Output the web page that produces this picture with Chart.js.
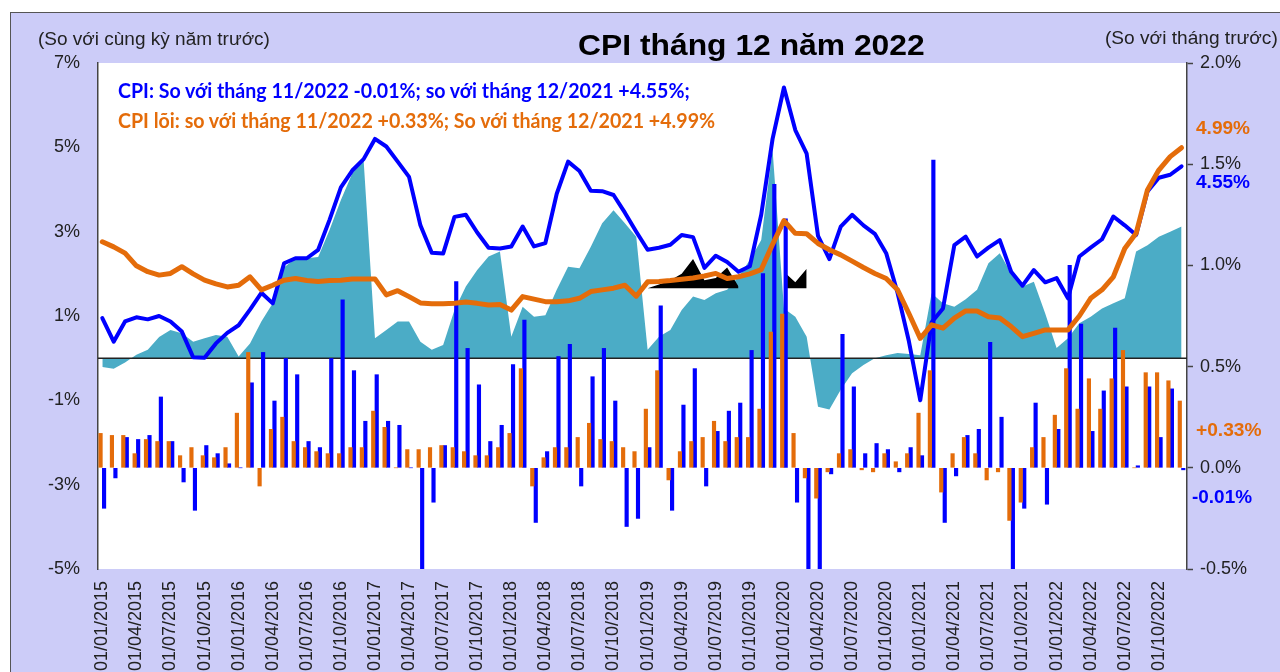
<!DOCTYPE html>
<html><head><meta charset="utf-8">
<script src="https://cdn.jsdelivr.net/npm/chart.js@4.4.1/dist/chart.umd.min.js"></script>
<style>
html,body{margin:0;padding:0;width:1280px;height:672px;overflow:hidden;background:#fff;}
#frame{position:absolute;left:10px;top:12px;width:1270px;height:660px;background:#CCCCF8;border-top:1.5px solid #555;border-left:1.5px solid #555;}
#c{position:absolute;left:0;top:0;}
.t{position:absolute;white-space:nowrap;line-height:1;transform-origin:0 50%;font-family:"Liberation Sans",Arial,sans-serif;}
.a{font-family:Lato,"Open Sans",sans-serif;font-weight:bold;}
</style></head><body>
<div id="frame"></div>
<canvas id="c" width="1280" height="700" style="width:1280px;height:700px"></canvas>
<div class="t" data-x="38" data-y="38" data-w="232" style="font-size:19px;color:#222">(So với cùng kỳ năm trước)</div>
<div class="t" data-x="578" data-y="45" data-w="347" style="font-size:30px;font-weight:bold;color:#000">CPI tháng 12 năm 2022</div>
<div class="t" data-x="1105" data-y="37" data-w="173" style="font-size:19px;color:#222">(So với tháng trước)</div>
<div class="t a" data-x="118" data-y="89" data-w="572" style="font-size:21px;color:#0000FF">CPI: So với tháng 11/2022 -0.01%; so với tháng 12/2021 +4.55%;</div>
<div class="t a" data-x="118" data-y="119" data-w="597" style="font-size:21px;color:#E46C0A">CPI lõi: so với tháng 11/2022 +0.33%; So với tháng 12/2021 +4.99%</div>
<div class="t" data-x="1196" data-y="128" data-w="54" style="font-size:18px;font-weight:bold;color:#E46C0A">4.99%</div>
<div class="t" data-x="1196" data-y="182" data-w="54" style="font-size:18px;font-weight:bold;color:#0000FF">4.55%</div>
<div class="t" data-x="1196" data-y="430" data-w="66" style="font-size:18px;font-weight:bold;color:#E46C0A">+0.33%</div>
<div class="t" data-x="1192" data-y="497" data-w="60" style="font-size:18px;font-weight:bold;color:#0000FF">-0.01%</div>
<script>
// Tick labels on the x axis (one every 3 months, Jan 2015 .. Oct 2022)
const tickLabels = ["01/01/2015","01/04/2015","01/07/2015","01/10/2015",
"01/01/2016","01/04/2016","01/07/2016","01/10/2016",
"01/01/2017","01/04/2017","01/07/2017","01/10/2017",
"01/01/2018","01/04/2018","01/07/2018","01/10/2018",
"01/01/2019","01/04/2019","01/07/2019","01/10/2019",
"01/01/2020","01/04/2020","01/07/2020","01/10/2020",
"01/01/2021","01/04/2021","01/07/2021","01/10/2021",
"01/01/2022","01/04/2022","01/07/2022","01/10/2022"];
const tickMonths = [0,3,6,9,12,15,18,21,24,27,30,33,36,39,42,45,48,51,54,57,60,63,66,69,72,75,78,81,84,87,90,93];

// CPI YoY (%), left axis
const cpiYoY = [0.95,0.39,0.87,0.97,0.92,1.00,0.87,0.63,0.02,0.01,0.35,0.60,
0.78,1.15,1.55,1.30,2.25,2.37,2.37,2.57,3.28,4.05,4.45,4.72,
5.20,5.02,4.66,4.30,3.15,2.50,2.48,3.35,3.40,2.98,2.62,2.60,
2.65,3.12,2.65,2.73,3.90,4.66,4.44,3.97,3.96,3.87,3.45,3.00,
2.57,2.62,2.69,2.92,2.87,2.14,2.43,2.28,2.05,2.18,3.40,5.20,
6.42,5.41,4.85,2.90,2.35,3.12,3.40,3.15,2.95,2.49,1.55,0.40,
-1.00,0.85,1.18,2.68,2.88,2.41,2.62,2.80,2.05,1.72,2.09,1.80,
1.90,1.42,2.41,2.62,2.82,3.36,3.15,2.92,3.95,4.28,4.35,4.55];

// Core CPI YoY (%), left axis
const coreYoY = [2.76,2.64,2.49,2.19,2.05,1.97,2.01,2.17,2.00,1.85,1.76,1.69,
1.73,1.93,1.62,1.73,1.85,1.89,1.84,1.82,1.84,1.85,1.88,1.88,
1.88,1.50,1.60,1.46,1.31,1.29,1.29,1.30,1.33,1.30,1.26,1.27,
1.14,1.46,1.40,1.34,1.34,1.36,1.42,1.58,1.62,1.66,1.73,1.47,
1.81,1.82,1.84,1.87,1.90,1.95,2.01,1.89,1.93,2.00,2.10,2.70,
3.26,2.96,2.95,2.72,2.57,2.45,2.30,2.15,2.01,1.89,1.62,1.06,
0.47,0.79,0.71,0.95,1.12,1.12,0.98,0.95,0.75,0.51,0.59,0.67,
0.67,0.67,1.00,1.42,1.62,1.93,2.60,2.96,3.99,4.46,4.78,4.99];

// Teal area series (%), left axis
const areaYoY = [-0.21,-0.25,-0.10,0.08,0.20,0.50,0.67,0.59,0.39,0.47,0.55,0.51,
0.04,0.35,0.87,1.30,2.15,2.37,2.37,2.40,3.04,3.75,4.38,4.70,
0.47,0.67,0.87,0.87,0.39,0.20,0.31,1.14,1.70,2.09,2.41,2.53,
0.51,1.22,0.98,1.02,1.62,2.17,2.13,2.64,3.20,3.51,3.20,2.88,
0.20,0.51,0.67,1.14,1.46,1.38,1.54,1.62,1.93,2.33,2.80,4.94,
1.18,0.98,0.51,-1.15,-1.22,-0.75,-0.36,-0.16,0.00,0.07,0.12,0.10,
0.07,1.54,1.30,1.22,1.40,1.62,2.25,2.49,2.01,1.70,1.81,1.06,
0.24,0.47,0.83,0.98,1.18,1.30,1.42,2.53,2.68,2.88,3.00,3.12];

// Black patch visible in the reference (left axis), base 1.66
const blackBase = 1.66;
const blackPatch = [null,null,null,null,null,null,null,null,null,null,null,null,
null,null,null,null,null,null,null,null,null,null,null,null,
null,null,null,null,null,null,null,null,null,null,null,null,
null,null,null,null,null,null,null,null,null,null,null,null,
1.66,1.75,1.85,2.00,2.35,1.85,1.90,2.15,1.70,null,null,null,
2.05,1.80,2.12,null,null,null,null,null,null,null,null,null,
null,null,null,null,null,null,null,null,null,null,null,null,
null,null,null,null,null,null,null,null,null,null,null,null];

// CPI MoM (%), right axis
const cpiMoM = [-0.20,-0.05,0.15,0.14,0.16,0.35,0.13,-0.07,-0.21,0.11,0.07,0.02,
0.00,0.42,0.57,0.33,0.54,0.46,0.13,0.10,0.54,0.83,0.48,0.23,
0.46,0.23,0.21,0.00,-0.53,-0.17,0.11,0.92,0.59,0.41,0.13,0.21,
0.51,0.73,-0.27,0.08,0.55,0.61,-0.09,0.45,0.59,0.33,-0.29,-0.25,
0.10,0.80,-0.21,0.31,0.49,-0.09,0.18,0.28,0.32,0.58,0.96,1.40,
1.23,-0.17,-0.72,-1.54,-0.03,0.66,0.40,0.07,0.12,0.09,-0.02,0.10,
0.06,1.52,-0.27,-0.04,0.16,0.19,0.62,0.25,-0.62,-0.20,0.32,-0.18,
0.19,1.00,0.71,0.18,0.38,0.69,0.40,0.01,0.40,0.15,0.39,-0.01];

// Core CPI MoM (%), right axis
const coreMoM = [0.17,0.16,0.16,0.07,0.14,0.13,0.13,0.06,0.10,0.06,0.05,0.10,
0.27,0.57,-0.09,0.19,0.25,0.13,0.10,0.08,0.07,0.07,0.10,0.10,
0.28,0.20,0.00,0.09,0.09,0.10,0.11,0.10,0.08,0.06,0.06,0.10,
0.17,0.49,-0.09,0.05,0.10,0.10,0.15,0.22,0.14,0.13,0.10,0.08,
0.29,0.48,-0.06,0.08,0.13,0.15,0.23,0.13,0.15,0.15,0.29,0.67,
0.76,0.17,-0.05,-0.15,-0.02,0.07,0.09,-0.01,-0.02,0.07,0.03,0.07,
0.27,0.48,-0.12,0.07,0.15,0.07,-0.06,-0.02,-0.26,-0.17,0.10,0.15,
0.26,0.49,0.29,0.44,0.29,0.44,0.58,0.00,0.47,0.47,0.43,0.33];

const pts = arr => arr.map((y, i) => ({x: i, y}));

const bgPlugin = {
  id: 'bg',
  beforeDraw(chart) {
    const {ctx, chartArea: a} = chart;
    ctx.save(); ctx.fillStyle = '#fff';
    ctx.fillRect(a.left, a.top, a.right - a.left, a.bottom - a.top);
    ctx.restore();
  },
  afterDatasetDraw(chart, args) {
    if (args.index !== 0) return;
    const {ctx, chartArea: a} = chart;
    const y = chart.scales.yL.getPixelForValue(0);
    ctx.save(); ctx.strokeStyle = '#222'; ctx.lineWidth = 1.5;
    ctx.beginPath(); ctx.moveTo(a.left, y); ctx.lineTo(a.right, y); ctx.stroke();
    ctx.restore();
  }
};

Chart.defaults.font.family = "'Liberation Sans', Arial, sans-serif";
Chart.defaults.animation = false;

new Chart(document.getElementById('c'), {
  type: 'bar',
  data: {
    datasets: [
      {type: 'line', label: 'area', data: pts(areaYoY), yAxisID: 'yL', order: 6,
       fill: 'origin', backgroundColor: '#4BACC6', borderWidth: 0, pointRadius: 0, tension: 0},
      {type: 'line', label: 'patch', data: pts(blackPatch), yAxisID: 'yL', order: 5,
       fill: {value: blackBase}, backgroundColor: '#000', borderWidth: 0, pointRadius: 0, spanGaps: false},
      {type: 'bar', label: 'CPI MoM', data: pts(cpiMoM), yAxisID: 'yR', order: 4,
       backgroundColor: '#0000FF', barThickness: 3.5},
      {type: 'bar', label: 'Core MoM', data: pts(coreMoM), yAxisID: 'yR', order: 3,
       backgroundColor: '#E46C0A', barThickness: 3.5},
      {type: 'line', label: 'CPI YoY', data: pts(cpiYoY), yAxisID: 'yL', order: 2,
       borderColor: '#0000FF', borderWidth: 4, pointRadius: 0, tension: 0, fill: false,
       borderJoinStyle: 'round', borderCapStyle: 'round'},
      {type: 'line', label: 'Core YoY', data: pts(coreYoY), yAxisID: 'yL', order: 1,
       borderColor: '#E46C0A', borderWidth: 5, pointRadius: 0, tension: 0, fill: false,
       borderJoinStyle: 'round', borderCapStyle: 'round'}
    ]
  },
  options: {
    responsive: false,
    animation: false,
    layout: {padding: {top: 63, left: 0, right: 0, bottom: 0}},
    plugins: {legend: {display: false}, tooltip: {enabled: false}, title: {display: false}},
    scales: {
      x: {
        type: 'linear', min: -0.38, max: 95.48, offset: false,
        afterBuildTicks: s => { s.ticks = tickMonths.map(v => ({value: v})); },
        afterFit: s => { s.height = 131; },
        grid: {display: false, drawTicks: false},
        border: {display: false},
        ticks: {autoSkip: false, minRotation: 90, maxRotation: 90, padding: 12,
          color: '#222', font: {size: 18},
          callback: v => tickLabels[tickMonths.indexOf(v)] || ''}
      },
      yL: {
        type: 'linear', position: 'left', min: -5, max: 7,
        afterFit: s => { s.width = 98; },
        grid: {display: false, drawTicks: false},
        border: {display: true, color: '#444', width: 1.5},
        ticks: {stepSize: 2, padding: 18, color: '#222', font: {size: 18},
          callback: v => v + '%'}
      },
      yR: {
        type: 'linear', position: 'right', min: -0.5, max: 2.0,
        afterFit: s => { s.width = 93; },
        grid: {display: true, drawOnChartArea: false, drawTicks: true, tickLength: 6, tickColor: '#444', tickWidth: 1.5},
        border: {display: true, color: '#444', width: 1.5},
        ticks: {stepSize: 0.5, padding: 7, color: '#222', font: {size: 18},
          callback: v => v.toFixed(1) + '%'}
      }
    }
  },
  plugins: [bgPlugin]
});

document.querySelectorAll('.t').forEach(el => {
  const x = +el.dataset.x, y = +el.dataset.y, w = +el.dataset.w;
  el.style.left = x + 'px';
  el.style.top = (y - el.offsetHeight / 2) + 'px';
  const s = w / el.offsetWidth;
  el.style.transform = 'scaleX(' + s.toFixed(3) + ')';
});
</script>
</body></html>
